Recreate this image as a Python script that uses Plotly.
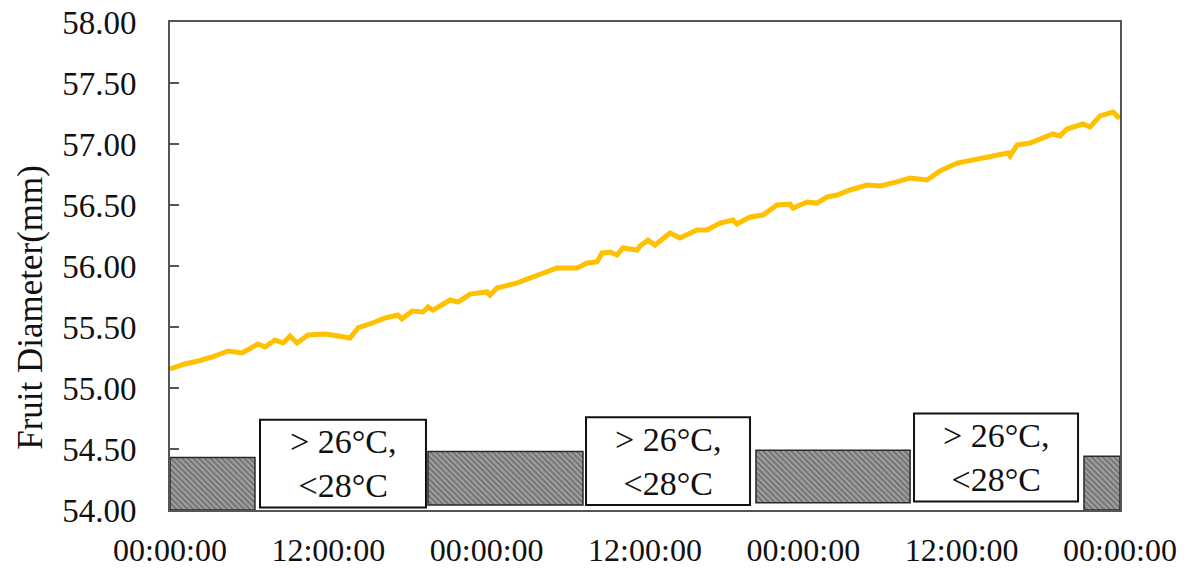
import plotly.graph_objects as go

# ---- data ----
hours = [0.00, 1.14, 2.12, 3.18, 4.40, 5.46, 6.67, 7.20, 7.96, 8.57, 9.10, 9.63, 10.46,
         11.75, 12.73, 13.64, 14.25, 15.01, 15.54, 16.29, 17.28, 17.58, 18.34, 19.18,
         19.55, 19.93, 21.22, 21.83, 22.74, 24.03, 24.25, 24.78, 26.30, 27.06, 28.04,
         29.33, 30.85, 31.60, 32.36, 32.74, 33.35, 33.88, 34.33, 35.40, 35.63, 36.23,
         36.76, 37.90, 38.65, 39.94, 40.70, 41.69, 42.67, 42.97, 43.96, 44.94, 46.01,
         46.99, 47.22, 48.28, 49.04, 49.80, 50.55, 51.54, 52.83, 53.81, 55.10, 56.09,
         57.37, 58.36, 59.65, 61.16, 62.38, 63.51, 63.67, 64.20, 65.18, 65.71, 66.47,
         66.92, 67.45, 67.98, 69.20, 69.73, 70.49, 71.47, 71.85, 72.00]
diameter = [55.156, 55.197, 55.221, 55.254, 55.303, 55.287, 55.361, 55.336, 55.393,
            55.369, 55.426, 55.369, 55.434, 55.443, 55.426, 55.410, 55.492, 55.516,
            55.541, 55.574, 55.598, 55.566, 55.631, 55.623, 55.664, 55.639, 55.721,
            55.705, 55.770, 55.787, 55.762, 55.820, 55.861, 55.893, 55.934, 55.984,
            55.984, 56.025, 56.033, 56.107, 56.115, 56.090, 56.148, 56.131, 56.164,
            56.213, 56.172, 56.270, 56.230, 56.295, 56.295, 56.352, 56.377, 56.344,
            56.402, 56.418, 56.500, 56.508, 56.475, 56.525, 56.516, 56.566, 56.582,
            56.623, 56.664, 56.656, 56.689, 56.721, 56.705, 56.779, 56.844, 56.877,
            56.910, 56.926, 56.902, 56.992, 57.008, 57.033, 57.066, 57.082, 57.066,
            57.123, 57.164, 57.139, 57.230, 57.262, 57.221, 57.215]

x_tickvals = [0, 12, 24, 36, 48, 60, 72]
x_ticktext = ["00:00:00", "12:00:00", "00:00:00", "12:00:00", "00:00:00", "12:00:00", "00:00:00"]

gray_start = [0.0, 19.55, 44.41, 69.27]
gray_end = [6.44, 31.30, 56.09, 72.0]
gray_bottom = [54.0, 54.04, 54.06, 54.0]
gray_top = [54.43, 54.48, 54.49, 54.44]

white_start = [6.82, 31.53, 56.39]
white_end = [19.40, 43.96, 68.82]
white_bottom = [54.02, 54.04, 54.07]
white_top = [54.74, 54.76, 54.79]
white_label = "> 26°C,<br><28°C"

y_title = "Fruit Diameter(mm)"

FONT = "Liberation Serif, Times New Roman, serif"

fig = go.Figure()

fig.add_trace(go.Bar(
    x=[(s + e) / 2 for s, e in zip(gray_start, gray_end)],
    width=[e - s for s, e in zip(gray_start, gray_end)],
    base=gray_bottom,
    y=[t - b for t, b in zip(gray_top, gray_bottom)],
    marker=dict(color="#909090",
                line=dict(color="#2a2a2a", width=1.5),
                pattern=dict(shape="\\", fgcolor="#3a3a3a", bgcolor="#a0a0a0",
                             size=4, solidity=0.45)),
    showlegend=False, hoverinfo="skip",
))

fig.add_trace(go.Bar(
    x=[(s + e) / 2 for s, e in zip(white_start, white_end)],
    width=[e - s for s, e in zip(white_start, white_end)],
    base=white_bottom,
    y=[t - b for t, b in zip(white_top, white_bottom)],
    marker=dict(color="white", line=dict(color="#111111", width=2)),
    showlegend=False, hoverinfo="skip",
))

for s, e, b, t in zip(white_start, white_end, white_bottom, white_top):
    fig.add_annotation(x=(s + e) / 2, y=(b + t) / 2, text=white_label,
                       showarrow=False, xref="x", yref="y",
                       font=dict(family=FONT, size=34, color="#111111"))

fig.add_trace(go.Scatter(
    x=hours, y=diameter, mode="lines",
    line=dict(color="#FFC000", width=5),
    showlegend=False,
))

# y-axis title placed as annotation (offset downward as in the reference)
fig.add_annotation(text=y_title, textangle=-90, showarrow=False,
                   xref="paper", yref="paper", x=-0.147, y=0.415,
                   xanchor="center", yanchor="middle",
                   font=dict(family=FONT, size=35, color="#111111"))

fig.update_layout(
    width=1186, height=568,
    margin=dict(l=170, r=66, t=22, b=58, autoexpand=False),
    paper_bgcolor="white", plot_bgcolor="white",
    barmode="overlay",
    font=dict(family=FONT, size=32, color="#111111"),
)

fig.update_xaxes(
    range=[0, 72], tickvals=x_tickvals, ticktext=x_ticktext,
    showgrid=False, zeroline=False, automargin=False,
    showline=True, linecolor="#555555", linewidth=2, mirror=True,
    ticks="", ticklabelstandoff=11, ticklabeloverflow="allow",
    tickfont=dict(family=FONT, size=32, color="#111111"),
)
fig.update_yaxes(
    range=[54, 58], dtick=0.5, tick0=54, tickformat=".2f",
    showgrid=False, zeroline=False, automargin=False,
    showline=True, linecolor="#555555", linewidth=2, mirror=True,
    ticks="inside", ticklen=9, tickcolor="#555555", tickwidth=1.5,
    ticklabelstandoff=25, ticklabeloverflow="allow",
    tickfont=dict(family=FONT, size=33, color="#111111"),
)

# remove the default 8px page margin so the 1186x568 figure fills the window exactly
fig.write_html(
    "out.html",
    config={"displayModeBar": False},
    post_script="document.body.style.margin='0';document.body.style.overflow='hidden';",
)
